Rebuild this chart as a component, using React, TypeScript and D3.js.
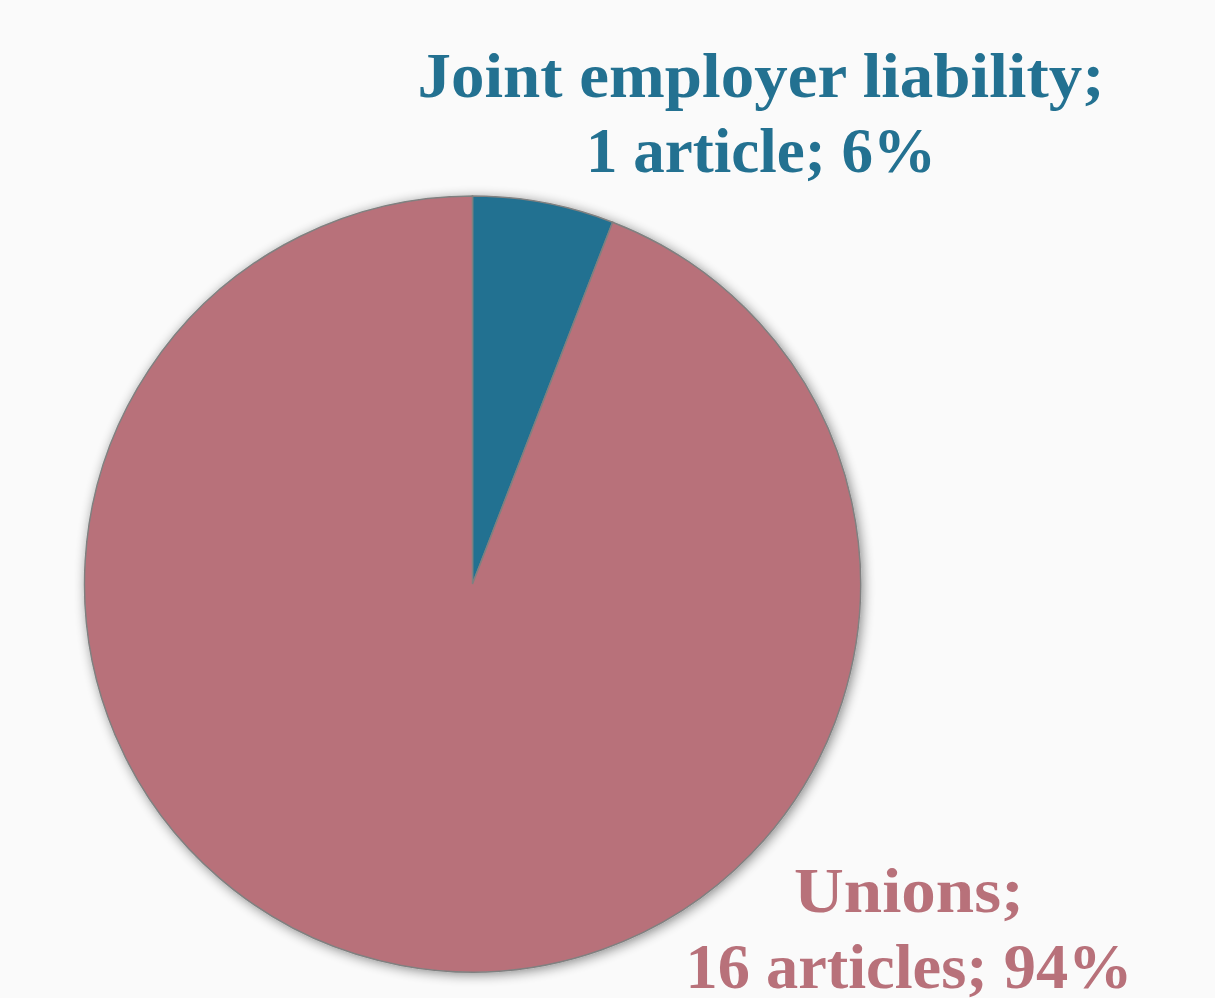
import React from "react";
import * as d3 from "d3";

const categories = ["Joint employer liability", "Unions"];
const counts = [1, 16];
const percents = ["6%", "94%"];
const colors = ["#237191", "#B8717A"];

const W = 1215;
const H = 998;

export default function App() {
  const cx = 472.5;
  const cy = 584;
  const r = 388;
  const pie = d3.pie<number>().sort(null).startAngle(0).endAngle(2 * Math.PI);
  const arcs = pie(counts);
  const arcGen = d3.arc<d3.PieArcDatum<number>>().innerRadius(0).outerRadius(r);

  const labels = [
    { lines: [`${categories[0]};`, `${counts[0]} article; ${percents[0]}`], x: 761, y: [97, 172], len: [687, 350] },
    { lines: [`${categories[1]};`, `${counts[1]} articles; ${percents[1]}`], x: 909, y: [912, 988], len: [230, 447] },
  ];

  return (
    <svg
      width={W}
      height={H}
      style={{ position: "absolute", left: 0, top: 0, display: "block", background: "#fafafa" }}
    >
      <defs>
        <filter id="shadow" x="-10%" y="-10%" width="120%" height="120%">
          <feGaussianBlur in="SourceAlpha" stdDeviation="6" />
          <feOffset dx="2" dy="2" result="b" />
          <feComponentTransfer>
            <feFuncA type="linear" slope="0.45" />
          </feComponentTransfer>
          <feMerge>
            <feMergeNode />
            <feMergeNode in="SourceGraphic" />
          </feMerge>
        </filter>
      </defs>
      <rect width={W} height={H} fill="#fafafa" />
      <g transform={`translate(${cx},${cy})`} filter="url(#shadow)">
        {arcs.map((a, i) => (
          <path key={i} d={arcGen(a) || ""} fill={colors[i]} stroke="#808080" strokeWidth={1.5} />
        ))}
      </g>
      {labels.map((l, i) => (
        <text
          key={i}
          fill={colors[i]}
          fontFamily="'Liberation Serif', 'DejaVu Serif', serif"
          fontWeight="bold"
          fontSize={63}
          textAnchor="middle"
        >
          {l.lines.map((t, j) => (
            <tspan key={j} x={l.x} y={l.y[j]} textLength={l.len[j]} lengthAdjust="spacingAndGlyphs">
              {t}
            </tspan>
          ))}
        </text>
      ))}
    </svg>
  );
}
